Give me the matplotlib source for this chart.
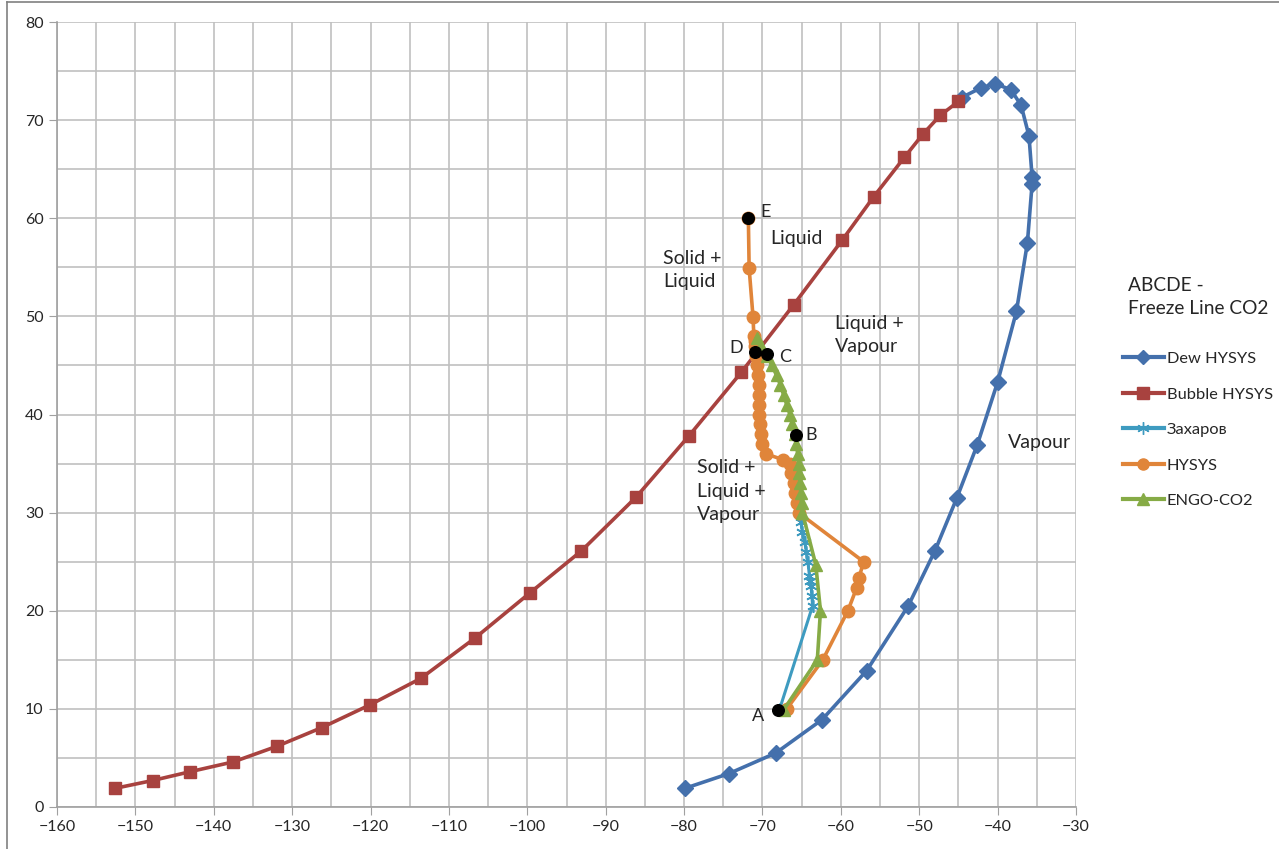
import numpy as np
import matplotlib
matplotlib.use("Agg")
import matplotlib.pyplot as plt
from matplotlib.lines import Line2D

plt.rcParams['font.family'] = ['Lato', 'DejaVu Sans']

# Dew HYSYS
dew_t = [-79.9, -74.3, -68.3, -62.4, -56.7, -51.4, -48.0, -45.2, -42.6, -40.0,
         -37.6, -36.2, -35.6, -35.6, -36.0, -37.0, -38.3, -40.3, -42.1, -44.6]
dew_p = [1.9, 3.4, 5.5, 8.9, 13.9, 20.5, 26.1, 31.5, 36.9, 43.3,
         50.5, 57.5, 63.5, 64.2, 68.4, 71.5, 73.1, 73.7, 73.3, 72.3]

# Bubble HYSYS
bub_t = [-152.6, -147.8, -143.0, -137.5, -131.9, -126.2, -120.1, -113.6, -106.7,
         -99.7, -93.1, -86.1, -79.4, -72.7, -66.0, -59.8, -55.8, -51.9, -49.5,
         -47.3, -45.0]
bub_p = [1.9, 2.7, 3.6, 4.6, 6.2, 8.1, 10.4, 13.1, 17.2,
         21.8, 26.1, 31.6, 37.8, 44.3, 51.2, 57.8, 62.2, 66.2, 68.6,
         70.5, 71.9]

# Захаров
zah_t = [-65.5, -65.3, -65.1, -64.9, -64.6, -64.4, -64.2, -64.0, -63.9, -63.8,
         -63.7, -63.6, -67.8]
zah_p = [31.0, 30.0, 29.0, 28.0, 27.0, 26.0, 25.0, 23.5, 23.0, 22.5,
         21.5, 20.5, 10.0]

# HYSYS (freeze)
hys_t = [-71.8, -71.7, -71.2, -71.1, -71.0, -70.9, -70.8, -70.7, -70.6, -70.5,
         -70.5, -70.4, -70.4, -70.3, -70.2, -70.1, -69.6, -67.4, -66.5, -66.3,
         -66.0, -65.8, -65.6, -65.4, -57.1, -57.7, -58.0, -59.1, -62.3, -66.9]
hys_p = [60.0, 54.9, 49.9, 48.0, 47.5, 47.0, 46.0, 45.0, 44.0, 43.0,
         42.0, 41.0, 40.0, 39.0, 38.0, 37.0, 36.0, 35.4, 35.0, 34.0,
         33.0, 32.0, 31.0, 30.0, 25.0, 23.3, 22.3, 20.0, 15.0, 10.0]

# ENGO-CO2
engo_t = [-70.7, -70.2, -69.4, -68.8, -68.2, -67.7, -67.3, -66.9, -66.5, -66.2,
          -65.9, -65.7, -65.5, -65.4, -65.3, -65.2, -65.1, -65.0, -64.9,
          -63.2, -62.6, -63.0, -67.3]
engo_p = [47.8, 47.0, 46.0, 45.0, 44.0, 43.0, 42.0, 41.0, 40.0, 39.0,
          38.0, 37.0, 36.0, 35.0, 34.0, 33.0, 32.0, 31.0, 30.0,
          24.7, 20.0, 15.0, 9.9]

# freeze line points ABCDE
pts_lbl = ['A', 'B', 'C', 'D', 'E']
pts_t = [-68.0, -65.7, -69.4, -70.9, -71.8]
pts_p = [9.9, 37.9, 46.2, 46.4, 60.0]

c_dew = '#4470AC'
c_bub = '#A8423F'
c_zah = '#3E9BC0'
c_hys = '#E0853A'
c_engo = '#86AB46'

fig = plt.figure(figsize=(12.79, 8.49), dpi=100)
ax = fig.add_axes([57/1279, 42/849, (1076-57)/1279, (807-22)/849])

ax.plot(dew_t, dew_p, color=c_dew, lw=2.6, marker='D', ms=8, zorder=3)
ax.plot(bub_t, bub_p, color=c_bub, lw=2.6, marker='s', ms=9, zorder=3)
ax.plot(zah_t, zah_p, color=c_zah, lw=2.2, marker=(6, 2, 0), ms=9, mew=1.2, zorder=3)
ax.plot(hys_t, hys_p, color=c_hys, lw=2.6, marker='o', ms=9, zorder=4)
ax.plot(engo_t, engo_p, color=c_engo, lw=2.6, marker='^', ms=8, zorder=5)
ax.scatter(pts_t, pts_p, color='black', s=70, zorder=6)

offs = {'A': (-3.4, -0.6), 'B': (1.2, 0), 'C': (1.5, -0.3), 'D': (-3.3, 0.4), 'E': (1.5, 0.6)}
for lbl, t, p in zip(pts_lbl, pts_t, pts_p):
    dx, dy = offs[lbl]
    ax.text(t + dx, p + dy, lbl, fontsize=13, color='#262626', va='center', ha='left')

region_txt = dict(fontsize=14, color='#262626', va='center', ha='left', linespacing=1.45)
ax.text(-69.0, 57.9, 'Liquid', **region_txt)
ax.text(-82.7, 54.7, 'Solid +\nLiquid', **region_txt)
ax.text(-60.7, 48.1, 'Liquid +\nVapour', **region_txt)
ax.text(-38.7, 37.1, 'Vapour', **region_txt)
ax.text(-78.3, 32.2, 'Solid +\nLiquid +\nVapour', **region_txt)

ax.set_xlim(-160, -30)
ax.set_ylim(0, 80)
ax.set_xticks(np.arange(-160, -29, 10))
ax.set_yticks(np.arange(0, 81, 10))
ax.set_xticks(np.arange(-160, -29, 5), minor=True)
ax.set_yticks(np.arange(0, 81, 5), minor=True)
ax.grid(True, which='both', color='#C0C0C0', lw=1.2, zorder=0)
ax.set_axisbelow(True)
ax.tick_params(which='major', length=6, color='#A0A0A0', labelsize=11.5,
               labelcolor='#262626', direction='out')
ax.tick_params(which='minor', length=0)
for s in ['top', 'right']:
    ax.spines[s].set_visible(False)
for s in ['left', 'bottom']:
    ax.spines[s].set_color('#A0A0A0')
    ax.spines[s].set_linewidth(1.2)

handles = [
    Line2D([0], [0], color=c_dew, lw=3, marker='D', ms=7, label='Dew HYSYS'),
    Line2D([0], [0], color=c_bub, lw=3, marker='s', ms=8, label='Bubble HYSYS'),
    Line2D([0], [0], color=c_zah, lw=3, marker=(6, 2, 0), ms=9, label='Захаров'),
    Line2D([0], [0], color=c_hys, lw=3, marker='o', ms=8, label='HYSYS'),
    Line2D([0], [0], color=c_engo, lw=3, marker='^', ms=8, label='ENGO-CO2'),
]
leg = fig.legend(handles=handles, loc='upper left', bbox_to_anchor=(1108/1279, 1 - 337/849),
                 frameon=False, fontsize=11.8, handlelength=2.5, handletextpad=0.2,
                 labelspacing=1.28, labelcolor='#262626')
fig.text(1128/1279, 1 - 297/849, 'ABCDE -\nFreeze Line CO2', fontsize=13.8,
         color='#262626', va='center', ha='left', linespacing=1.45)

# chart area border (top and left)
fig.add_artist(Line2D([7/1279, 1], [1 - 1.5/849, 1 - 1.5/849], color='#808080', lw=1.2))
fig.add_artist(Line2D([7/1279, 7/1279], [0, 1 - 1.5/849], color='#808080', lw=1.2))

fig.savefig('out.png', dpi=100)
